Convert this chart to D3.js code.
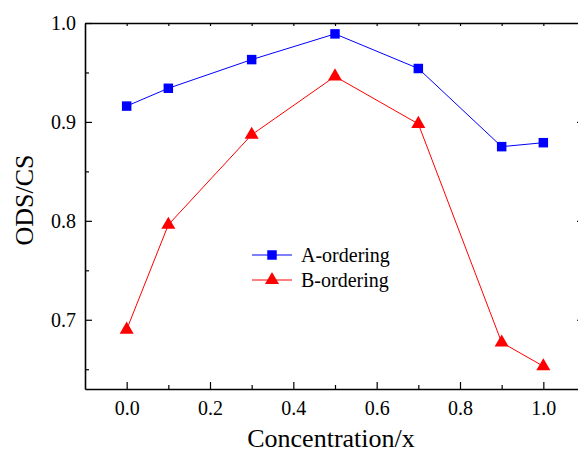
<!DOCTYPE html>
<html><head><meta charset="utf-8"><script src="https://cdn.jsdelivr.net/npm/d3@7"></script></head>
<body style="margin:0">
<svg id="odsfig" width="578" height="453" style="font-family: 'Liberation Serif', 'Times New Roman', serif"></svg>
<script>
// ODS/CS against concentration for the two orderings
const conc = [0.0, 0.1, 0.3, 0.5, 0.7, 0.9, 1.0];
const aOrdering = [0.916, 0.934, 0.963, 0.989, 0.954, 0.875, 0.879];
const bOrdering = [0.690, 0.796, 0.887, 0.946, 0.898, 0.677, 0.653];
const xTicks = [0.0, 0.2, 0.4, 0.6, 0.8, 1.0];
const yTicks = [0.7, 0.8, 0.9, 1.0];

const SERIF = "Times New Roman";
const svg = d3.select("#odsfig");
const L = 85, R = 585, T = 23, B = 389;
const x = d3.scaleLinear().domain([-0.1, 1.1]).range([L, R]);
const y = d3.scaleLinear().domain([0.63, 1.0]).range([B, T]);

const xMinor = d3.range(0, 11).map(i => i / 10).filter(v => !xTicks.some(t => Math.abs(t - v) < 1e-9));
const yMinor = [0.65, 0.75, 0.85, 0.95];

// bottom axis, ticks pointing in
const gx = svg.append("g").attr("transform", "translate(0," + B + ")");
gx.call(d3.axisBottom(x).tickValues(xTicks).tickFormat(d3.format(".1f")).tickSizeInner(-7).tickSizeOuter(0).tickPadding(12));
gx.append("g").call(d3.axisBottom(x).tickValues(xMinor).tickFormat("").tickSizeInner(-4).tickSizeOuter(0)).select(".domain").remove();

// left axis
const gy = svg.append("g").attr("transform", "translate(" + L + ",0)");
gy.call(d3.axisLeft(y).tickValues(yTicks).tickFormat(d3.format(".1f")).tickSizeInner(-7).tickSizeOuter(0).tickPadding(9));
gy.append("g").call(d3.axisLeft(y).tickValues(yMinor).tickFormat("").tickSizeInner(-4).tickSizeOuter(0)).select(".domain").remove();

// top + right mirror axes (right one sits just past the picture edge)
const gt = svg.append("g").attr("transform", "translate(0," + T + ")");
gt.call(d3.axisTop(x).tickValues(d3.range(0, 11).map(i => i / 10)).tickFormat("").tickSizeInner(-3).tickSizeOuter(0));
const gr = svg.append("g").attr("transform", "translate(" + R + ",0)");
gr.call(d3.axisRight(y).tickValues(yTicks).tickFormat("").tickSizeInner(-8).tickSizeOuter(0));
gr.append("g").call(d3.axisRight(y).tickValues(yMinor).tickFormat("").tickSizeInner(-4).tickSizeOuter(0)).select(".domain").remove();

svg.selectAll("g").attr("font-family", null);
svg.selectAll(".domain").attr("stroke", "#000").attr("stroke-width", 1.6);
svg.selectAll(".tick line").attr("stroke", "#000").attr("stroke-width", 1.2);
svg.selectAll(".tick text").attr("font-family", SERIF).attr("font-size", 20).attr("fill", "#000");

// axis titles
svg.append("text").attr("x", 331).attr("y", 447).attr("font-family", SERIF).attr("font-size", 26)
  .attr("text-anchor", "middle").attr("fill", "#000").text("Concentration/x");
svg.append("text").attr("transform", "rotate(-90)").attr("font-family", SERIF).attr("font-size", 26)
  .attr("x", -200).attr("y", 33).attr("text-anchor", "middle").attr("fill", "#000").text("ODS/CS");

// series
const series = [
  { name: "A-ordering", vals: aOrdering, color: "#0000ff", shape: d3.symbolSquare, size: 90 },
  { name: "B-ordering", vals: bOrdering, color: "#ff0000", shape: d3.symbolTriangle, size: 85 },
];
const line = d3.line().x(d => x(d[0])).y(d => y(d[1]));
series.forEach(s => {
  const pts = conc.map((c, i) => [c, s.vals[i]]);
  svg.append("path").attr("d", line(pts)).attr("fill", "none").attr("stroke", s.color).attr("stroke-width", 1);
  svg.append("g").selectAll("path").data(pts).join("path")
    .attr("transform", d => "translate(" + x(d[0]) + "," + y(d[1]) + ")")
    .attr("d", d3.symbol().type(s.shape).size(s.size)).attr("fill", s.color);
});

// legend
const lg = svg.append("g").attr("transform", "translate(252,255)");
series.forEach((s, i) => {
  const g = lg.append("g").attr("transform", "translate(0," + i * 25 + ")");
  g.append("line").attr("x1", 0).attr("x2", 40).attr("stroke", s.color).attr("stroke-width", 1);
  g.append("path").attr("transform", "translate(20,0)").attr("d", d3.symbol().type(s.shape).size(s.size)).attr("fill", s.color);
  g.append("text").attr("x", 49).attr("y", 7).attr("font-family", SERIF).attr("font-size", 20)
    .attr("fill", "#000").text(s.name);
});
</script></body></html>
